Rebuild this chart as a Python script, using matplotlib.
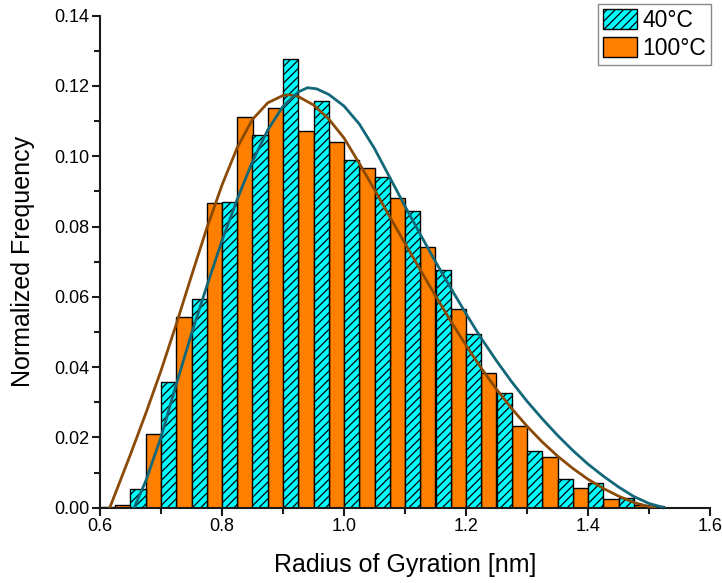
import matplotlib
matplotlib.use("Agg")
import matplotlib.pyplot as plt
from matplotlib.ticker import MultipleLocator, FormatStrFormatter

plt.rcParams['font.family'] = ['Liberation Sans', 'DejaVu Sans']
plt.rcParams['hatch.linewidth'] = 0.9

# ---- data ----
bin_centers = [0.60, 0.65, 0.70, 0.75, 0.80, 0.85, 0.90, 0.95, 1.00, 1.05,
               1.10, 1.15, 1.20, 1.25, 1.30, 1.35, 1.40, 1.45, 1.50]
freq_40 = [0.0003, 0.0054, 0.0357, 0.0593, 0.0870, 0.1061, 0.1276, 0.1158, 0.0990, 0.0942,
           0.0843, 0.0676, 0.0494, 0.0325, 0.0162, 0.0081, 0.0069, 0.0027, 0.0005]
freq_100 = [0.0, 0.0007, 0.0209, 0.0542, 0.0866, 0.1113, 0.1137, 0.1072, 0.1042, 0.0966,
            0.0880, 0.0741, 0.0565, 0.0382, 0.0233, 0.0143, 0.0055, 0.0024, 0.0007]

# fitted distribution curves
fit40_x = [0.656, 0.675, 0.700, 0.725, 0.750, 0.775, 0.800, 0.825, 0.850, 0.875, 0.900,
           0.925, 0.940, 0.955, 0.975, 1.000, 1.025, 1.050, 1.075, 1.100, 1.125, 1.150,
           1.175, 1.200, 1.225, 1.250, 1.275, 1.300, 1.325, 1.350, 1.375, 1.400, 1.425,
           1.450, 1.475, 1.500, 1.525]
fit40_y = [0.0, 0.0076, 0.0201, 0.0351, 0.0495, 0.0630, 0.0760, 0.0878, 0.0985, 0.1075, 0.1142,
           0.1183, 0.1195, 0.1192, 0.1176, 0.1143, 0.1092, 0.1022, 0.0940, 0.0858, 0.0778, 0.0700,
           0.0625, 0.0552, 0.0482, 0.0418, 0.0358, 0.0303, 0.0253, 0.0206, 0.0163, 0.0124, 0.0090,
           0.0059, 0.0032, 0.0012, 0.0]

fit100_x = [0.616, 0.625, 0.650, 0.675, 0.700, 0.725, 0.750, 0.775, 0.800, 0.825, 0.850,
            0.875, 0.900, 0.910, 0.925, 0.950, 0.975, 1.000, 1.025, 1.050, 1.075, 1.100,
            1.125, 1.150, 1.175, 1.200, 1.225, 1.250, 1.275, 1.300, 1.325, 1.350, 1.375,
            1.400, 1.425, 1.450, 1.475, 1.500, 1.510]
fit100_y = [0.0, 0.0040, 0.0152, 0.0268, 0.0390, 0.0522, 0.0660, 0.0795, 0.0918, 0.1025, 0.1105,
            0.1152, 0.1173, 0.1175, 0.1170, 0.1146, 0.1106, 0.1052, 0.0980, 0.0905, 0.0828, 0.0752,
            0.0677, 0.0603, 0.0531, 0.0462, 0.0397, 0.0337, 0.0282, 0.0232, 0.0187, 0.0147, 0.0112,
            0.0081, 0.0055, 0.0033, 0.0015, 0.0003, 0.0]

series_labels = ['40°C', '100°C']
x_ticks = [0.6, 0.8, 1.0, 1.2, 1.4, 1.6]
y_ticks = [0.00, 0.02, 0.04, 0.06, 0.08, 0.10, 0.12, 0.14]

# ---- figure ----
fig = plt.figure(figsize=(7.22, 5.83), dpi=100)
ax = fig.add_axes([100/722, 1 - 507.7/583, 610/722, (507.7 - 15.7)/583])

half = 0.025
x_orange = [c - half/2 for c in bin_centers]
x_cyan = [c + half/2 for c in bin_centers]

b100 = ax.bar(x_orange, freq_100, width=half, color='#FF8000', edgecolor='black',
              linewidth=1.0, label=series_labels[1], zorder=2)
b40 = ax.bar(x_cyan, freq_40, width=half, color='#00FFFF', edgecolor='black',
             linewidth=1.0, hatch='////', label=series_labels[0], zorder=2)

ax.plot(fit100_x, fit100_y, color='#8B4A06', lw=2.0, zorder=3, solid_capstyle='round')
ax.plot(fit40_x, fit40_y, color='#126878', lw=2.0, zorder=3, solid_capstyle='round')

ax.set_xlim(0.6, 1.6)
ax.set_ylim(0, 0.14)
ax.set_xticks(x_ticks)
ax.set_yticks(y_ticks)
ax.xaxis.set_minor_locator(MultipleLocator(0.1))
ax.yaxis.set_minor_locator(MultipleLocator(0.01))
ax.xaxis.set_major_formatter(FormatStrFormatter('%.1f'))
ax.yaxis.set_major_formatter(FormatStrFormatter('%.2f'))

for s in ['top', 'right']:
    ax.spines[s].set_visible(False)
for s in ['left', 'bottom']:
    ax.spines[s].set_linewidth(1.5)
    ax.spines[s].set_color('#1a1a1a')

ax.tick_params(which='major', direction='out', length=6, width=1.5, labelsize=13,
               color='#1a1a1a', pad=1.5)
ax.tick_params(which='minor', direction='out', length=4, width=1.5, color='#1a1a1a')

ax.set_xlabel('Radius of Gyration [nm]', fontsize=18, labelpad=13)
ax.set_ylabel('Normalized Frequency', fontsize=18, labelpad=14)

leg = ax.legend(handles=[b40, b100], labels=series_labels, loc='upper right',
                bbox_to_anchor=(711/722, 1 - 4/583), bbox_transform=fig.transFigure,
                fontsize=16.5, frameon=True, fancybox=False, framealpha=1,
                edgecolor='#888888', borderpad=0.2, handlelength=1.5, handleheight=0.95,
                handletextpad=0.25, labelspacing=0.24, borderaxespad=0)
leg.get_frame().set_linewidth(1.0)

fig.savefig('out.png', dpi=100)
